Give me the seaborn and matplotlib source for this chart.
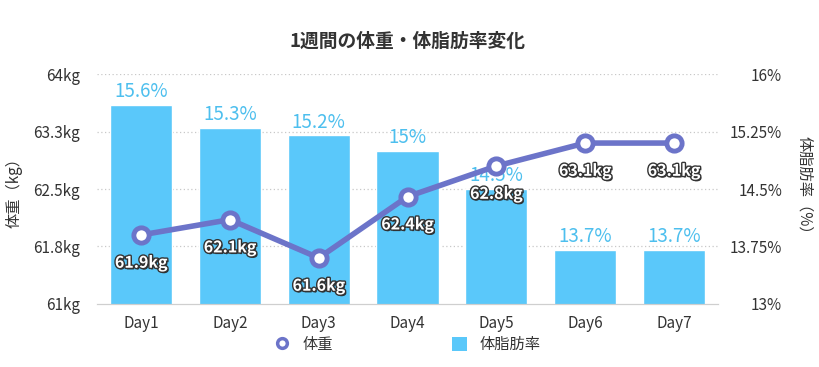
import numpy as np
import pandas as pd
import matplotlib
matplotlib.use("Agg")
import matplotlib.pyplot as plt
import matplotlib.patheffects as pe
from matplotlib.lines import Line2D
from matplotlib.patches import Patch
import seaborn as sns

# data
days = ["Day1", "Day2", "Day3", "Day4", "Day5", "Day6", "Day7"]
weight = [61.9, 62.1, 61.6, 62.4, 62.8, 63.1, 63.1]
body_fat = [15.6, 15.3, 15.2, 15.0, 14.5, 13.7, 13.7]
weight_ticks = [61, 61.75, 62.5, 63.25, 64]
weight_tick_labels = ["61kg", "61.8kg", "62.5kg", "63.3kg", "64kg"]
fat_ticks = [13, 13.75, 14.5, 15.25, 16]
fat_tick_labels = ["13%", "13.75%", "14.5%", "15.25%", "16%"]

BAR_COLOR = "#5ac8fa"
BAR_TEXT = "#4dbfee"
LINE_COLOR = "#6c74c9"
TEXT = "#333333"

sns.set_style("white")
plt.rcParams["font.family"] = ["Noto Sans CJK JP", "DejaVu Sans"]

df = pd.DataFrame({"day": days, "weight": weight, "fat": body_fat})

fig = plt.figure(figsize=(8.2, 3.67), dpi=100)
ax = fig.add_axes([0.118, 0.172, 0.758, 0.626])  # bars, right axis
ax2 = ax.twinx()                                   # line, left axis

# bars (body fat %)
sns.barplot(data=df, x="day", y="fat", color=BAR_COLOR, saturation=1,
            width=0.7, ax=ax, zorder=2)
ax.set_ylim(13, 16)
ax.set_xlim(-0.5, 6.5)
for i, v in enumerate(body_fat):
    ax.annotate(f"{v:g}%", (i, v), xytext=(0, 2), textcoords="offset points",
                ha="center", va="bottom", fontsize=13.5, color=BAR_TEXT,
                zorder=3)

# line (weight)
sns.lineplot(data=df, x="day", y="weight", color=LINE_COLOR, linewidth=4,
             marker="o", markersize=11, markerfacecolor="white",
             markeredgecolor=LINE_COLOR, markeredgewidth=3.5, ax=ax2,
             sort=False, zorder=5)
ax2.set_ylim(61, 64)
ax2.set_xlim(-0.5, 6.5)
for i, v in enumerate(weight):
    ax2.annotate(f"{v}kg", (i, v), xytext=(0, -20), textcoords="offset points",
                 ha="center", va="center", fontsize=11.5, fontweight="bold",
                 color="white", zorder=6,
                 path_effects=[pe.withSimplePatchShadow(offset=(1, -1.2),
                                                        shadow_rgbFace="#222222",
                                                        alpha=0.9),
                               pe.withStroke(linewidth=2, foreground="#333333")])

# axes: fat on right, weight on left
ax.yaxis.tick_right()
ax.yaxis.set_label_position("right")
ax2.yaxis.tick_left()
ax2.yaxis.set_label_position("left")

ax.set_yticks(fat_ticks)
ax.set_yticklabels(fat_tick_labels, ha="right")
ax2.set_yticks(weight_ticks)
ax2.set_yticklabels(weight_tick_labels)

ax.tick_params(axis="y", length=0, pad=46, labelsize=11, labelcolor=TEXT)
ax2.tick_params(axis="y", length=0, pad=12, labelsize=11, labelcolor=TEXT)
ax.tick_params(axis="x", length=0, pad=8, labelsize=11, labelcolor=TEXT)

ax.set_xlabel("")
ax.set_ylabel("体脂肪率（%）", fontsize=11, color=TEXT, rotation=270,
              labelpad=10, va="bottom")
ax2.set_ylabel("体重（kg）", fontsize=11, color=TEXT, labelpad=8)
ax2.set_xlabel("")

# dotted grid
for t in fat_ticks[1:]:
    ax.axhline(t, color="#c8c8c8", linestyle=(0, (1, 2)), linewidth=0.9, zorder=1)

for a in (ax, ax2):
    for s in ["top", "left", "right"]:
        a.spines[s].set_visible(False)
    a.spines["bottom"].set_color("#cfcfcf")

ax.set_title("1週間の体重・体脂肪率変化", fontsize=13.5, fontweight="bold",
             color=TEXT, pad=20)

handles = [
    Line2D([0], [0], color=LINE_COLOR, marker="o", linestyle="none",
           markersize=7, markerfacecolor="white", markeredgewidth=2.5),
    Patch(facecolor=BAR_COLOR, edgecolor="none"),
]
fig.legend(handles, ["体重", "体脂肪率"], loc="lower center",
           bbox_to_anchor=(0.497, 0.0), ncol=2, frameon=False,
           fontsize=11, columnspacing=7.8, handlelength=1.0,
           handleheight=1.0, labelcolor=TEXT)

fig.savefig("out.png", dpi=100)
